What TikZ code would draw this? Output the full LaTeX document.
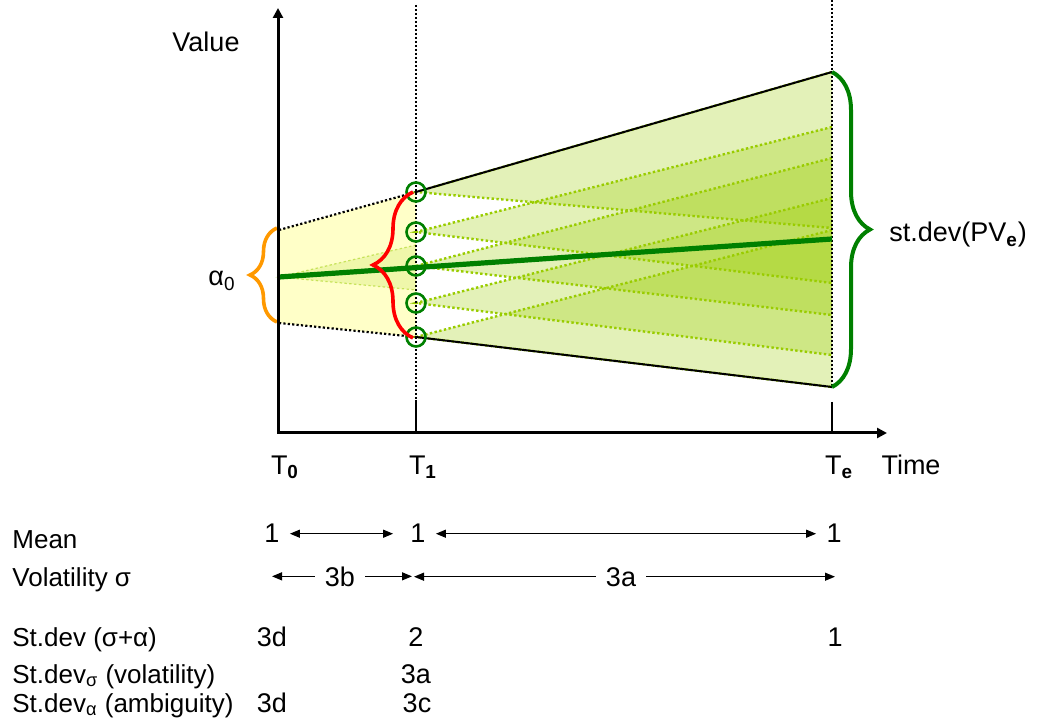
\documentclass[tikz,border=0pt]{standalone}
\usepackage{fontspec}
\setmainfont{Liberation Sans}
\usetikzlibrary{arrows.meta, decorations.pathreplacing}
\definecolor{fangreen}{RGB}{153,204,0}
\definecolor{meangreen}{RGB}{0,128,0}
\definecolor{bracered}{RGB}{255,0,0}
\definecolor{braceorange}{RGB}{255,153,0}
\definecolor{paleyellow}{RGB}{255,255,200}
\tikzset{
  lbl/.style={font=\fontsize{13.5}{16}\selectfont, inner sep=0pt, anchor=base},
  rowlbl/.style={font=\fontsize{13}{16}\selectfont, inner sep=0pt, anchor=base west},
  num/.style={lbl, inner sep=5pt},
  axis/.style={line width=1.5pt, {Triangle[length=5pt,width=5pt]}-{Triangle[length=5pt,width=5pt]}},
  dim/.style={line width=0.6pt},
  fanline/.style={fangreen, line width=1.2pt, dash pattern=on 1.2pt off 1.2pt},
  edge/.style={line width=1.1pt, dash pattern=on 1.1pt off 1.1pt},
  marker/.style={line width=0.9pt, dash pattern=on 0.9pt off 1.1pt},
  meanline/.style={meangreen, line width=2.6pt},
  ring/.style={circle, draw=meangreen, line width=1.3pt, minimum size=9.5pt, inner sep=0pt},
  curly/.style={decorate, line width=1.8pt}
}

\begin{document}
\begin{tikzpicture}[x=0.5pt, y=-0.5pt, >={Triangle[length=5pt,width=4pt]}]
\useasboundingbox (0,0) rectangle (1039,721);
% time points
\coordinate (t0) at (278,433);
\coordinate (t1) at (416,433);
\coordinate (te) at (832,433);
% spread at T0
\coordinate (a0) at (279,230);
\coordinate (m0) at (279,277);
\coordinate (b0) at (279,323);
% outcomes at T1
\foreach \i/\y in {1/192, 2/232, 3/266, 4/303, 5/337}
  \coordinate (p\i) at (416,\y);
% spread at Te
\coordinate (top) at (832,72);
\coordinate (me) at (832,239);
\coordinate (bot) at (832,387);

% T0 to T1
\fill[paleyellow] (a0) -- (p1) -- (p5) -- (b0) -- cycle;
\fill[fangreen, opacity=0.15] (m0) -- (416,245) -- (416,290) -- cycle;
\draw[fanline, line width=0.6pt, opacity=0.5] (416,245) -- (m0) -- (416,290);

% T1 to Te, one fan per outcome
\foreach \i/\t/\b in {1/72/228, 2/127/283, 3/158/315, 4/198/355, 5/230/387}
  \fill[fangreen, opacity=0.28] (p\i) -- (832,\t) -- (832,\b) -- cycle;
\foreach \i/\t/\b in {1/72/228, 2/127/283, 3/158/315, 4/198/355, 5/230/387}
  \draw[fanline] (832,\t) -- (p\i) -- (832,\b);

\draw[edge] (a0) -- (p1);
\draw[edge] (b0) -- (p5);
\draw[line width=1pt] (p1) -- (top);
\draw[line width=1pt] (p5) -- (bot);

% time markers
\draw[marker] (416,5) -- (416,400);
\draw[marker] (832,0) -- (832,388);
\draw[line width=0.8pt] (416,400) -- (t1);
\draw[line width=0.8pt] (832,402) -- (te);

% mean path
\draw[meanline] (m0) -- (me);
\foreach \i in {1,...,5}
  \node[ring] (c\i) at (p\i) {};

% braces
\draw[curly, braceorange, decoration={brace, amplitude=13.5pt}] (277,322) -- (277,228);
\draw[curly, bracered, decoration={brace, amplitude=20pt}] (413,338) -- (413,192);
\draw[curly, meangreen, line width=2pt, decoration={brace, amplitude=19pt}] (top) -- (bot);

% axes
\draw[axis] (278,8) -- (t0) -- (887,433);

% labels
\node[lbl] (value) at (206,52) {Value};
\node[lbl] (alpha) at (222,286) {α\textsubscript{0}};
\node[lbl, anchor=base west] (pve) at (889,242) {st.dev(PV\textsubscript{\bfseries e})};
\node[lbl] (T0) at (285,474) {T\textsubscript{\bfseries 0}};
\node[lbl] (T1) at (423,474) {T\textsubscript{\bfseries 1}};
\node[lbl] (Te) at (839,474) {T\textsubscript{\bfseries e}};
\node[lbl] (time) at (911,474) {Time};

% table below
\node[rowlbl] (mean) at (12,548) {Mean};
\node[rowlbl] (vol) at (12,586) {Volatility σ};
\node[rowlbl] (sd) at (12,646) {St.dev (σ+α)};
\node[rowlbl] (sdv) at (12,683) {St.dev\textsubscript{σ} (volatility)};
\node[rowlbl] (sda) at (12,712) {St.dev\textsubscript{α} (ambiguity)};

\node[num] (mean0) at (272,543) {1};
\node[num] (mean1) at (418,543) {1};
\node[num] (mean2) at (834,543) {1};
\draw[dim, <->, shorten >=3.5pt] (mean0) -- (mean1);
\draw[dim, <->] (mean1) -- (mean2);

\node[num] (vol3b) at (340,586) {3b};
\node[num] (vol3a) at (621,586) {3a};
\draw[dim, ->, shorten >=-3pt] (vol3b) -- (vol3b -| t0);
\draw[dim, ->, shorten >=2pt] (vol3b) -- (vol3b -| t1);
\draw[dim, ->, shorten >=-1pt] (vol3a) -- (vol3a -| t1);
\draw[dim, ->, shorten >=-1.5pt] (vol3a) -- (vol3a -| te);

\node[lbl] (sd0) at (272,646) {3d};
\node[lbl] (sd1) at (416,646) {2};
\node[lbl] (sd2) at (835,646) {1};
\node[lbl] (sdv1) at (416,683) {3a};
\node[lbl] (sda0) at (272,712) {3d};
\node[lbl] (sda1) at (417,712) {3c};
\end{tikzpicture}
\end{document}
